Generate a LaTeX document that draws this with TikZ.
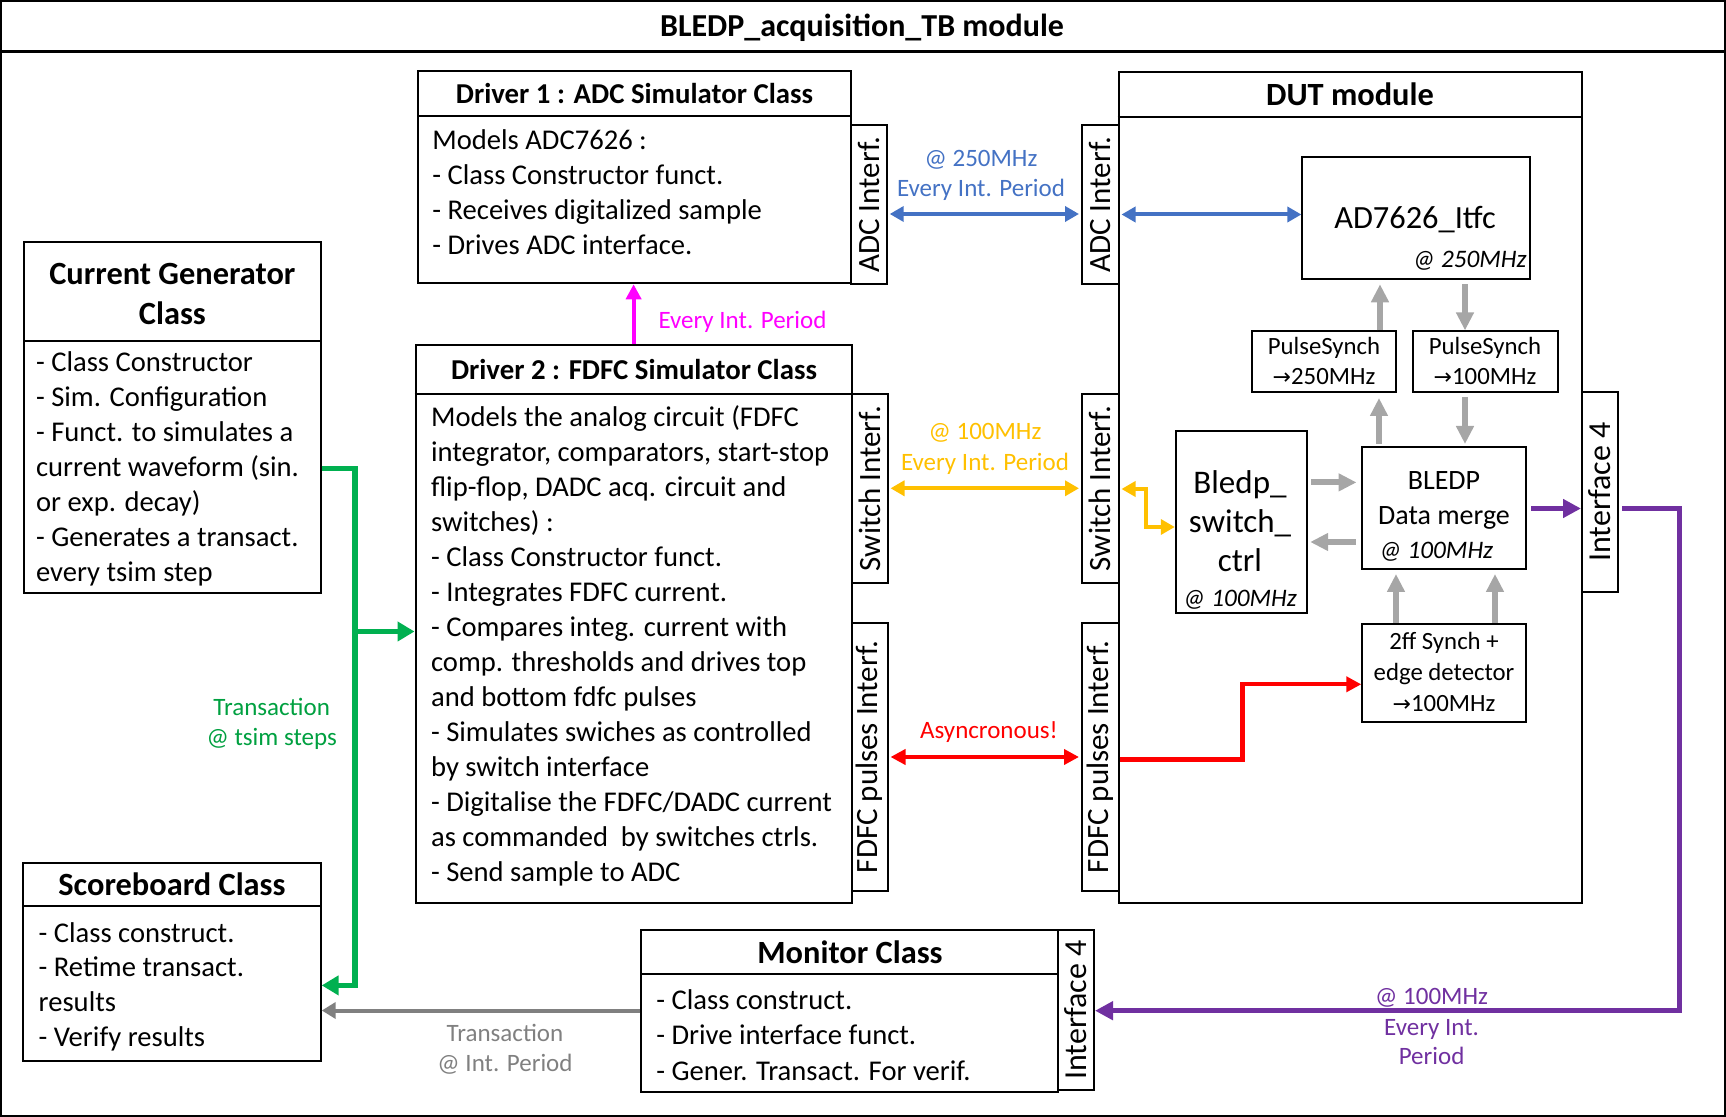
\documentclass[tikz,border=0pt]{standalone}
\usepackage{fontspec}
\setmainfont{Carlito}
\newfontfamily\arrowfont{DejaVu Sans}
\usetikzlibrary{arrows.meta,fit,calc}
\definecolor{cblue}{HTML}{4472C4}
\definecolor{cyel}{HTML}{FFC000}
\definecolor{cred}{HTML}{FF0000}
\definecolor{cmag}{HTML}{FF00FF}
\definecolor{cgreen}{HTML}{00B050}
\definecolor{cgreent}{HTML}{00A040}
\definecolor{cpurp}{HTML}{7030A0}
\definecolor{cgray}{HTML}{A6A6A6}
\definecolor{cgrayd}{HTML}{808080}
\newcommand\bodytext[1]{\parbox[t]{220pt}{\raggedright #1}}
\newcommand\rarr{{\arrowfont\fontsize{11}{13}\selectfont →}}
\tikzset{
  box/.style={draw, line width=1pt, inner sep=0pt},
  bodyt/.style={anchor=base west, inner sep=0pt, font=\fontsize{14.3}{17.5}\selectfont},
  ttl/.style={anchor=base, inner sep=0pt, font=\bfseries\fontsize{14.4}{17}\selectfont},
  bigttl/.style={anchor=base, inner sep=0pt, font=\bfseries\fontsize{16.2}{19.7}\selectfont},
  tabtxt/.style={rotate=90, inner sep=0pt, font=\fontsize{15.5}{18}\selectfont},
  lbl/.style={anchor=base, inner sep=0pt, font=\fontsize{12.5}{15}\selectfont},
  small/.style={anchor=base, inner sep=0pt, font=\fontsize{12.4}{15}\selectfont},
  ital/.style={inner sep=0pt, font=\itshape\fontsize{12.6}{15}\selectfont},
  ablue/.style={draw=cblue, line width=2pt, {Triangle[length=7pt,width=7.5pt]}-{Triangle[length=7pt,width=7.5pt]}},
  ayel/.style={draw=cyel, line width=2pt, {Triangle[length=7pt,width=7.5pt]}-{Triangle[length=7pt,width=7.5pt]}},
  ared2/.style={draw=cred, line width=2.2pt, {Triangle[length=7.5pt,width=7.5pt]}-{Triangle[length=7.5pt,width=7.5pt]}},
  ared/.style={draw=cred, line width=2.2pt, -{Triangle[length=7.5pt,width=7.5pt]}},
  amag/.style={draw=cmag, line width=2pt, -{Triangle[length=7.5pt,width=7.5pt]}},
  agreen/.style={draw=cgreen, line width=2.8pt, -{Triangle[length=8.5pt,width=9.5pt]}},
  apurp/.style={draw=cpurp, line width=2.5pt, -{Triangle[length=9pt,width=9pt]}},
  agray/.style={draw=cgray, line width=3pt, -{Triangle[length=9pt,width=8.5pt]}},
  agrayd/.style={draw=cgrayd, line width=2pt, -{Triangle[length=7pt,width=8pt]}},
}
\begin{document}
\begin{tikzpicture}[x=0.5pt,y=-0.5pt]
\useasboundingbox (0,0) rectangle (1726,1117);
% outer frame
\node[draw, line width=0.75pt, inner sep=0pt, fit={(1,1) (1725,1116)}] (outer) {};
\draw[line width=1.5pt] (outer.west |- 0,52) -- (outer.east |- 0,52);
\node[anchor=base, inner sep=0pt, font=\bfseries\fontsize{16}{19}\selectfont] (title) at (862,37) {BLEDP\_acquisition\_TB module};

% Driver 1
\node[box, fit={(418.4,70.7) (851.3,283.3)}] (d1) {};
\draw[line width=1pt] (d1.west |- 0,116) -- (d1.east |- 0,116);
\node[ttl] (d1t) at (634.5,103.3) {Driver 1 : ADC Simulator Class};
\node[bodyt] (d1b) at (432,150) {\bodytext{Models ADC7626 :\\- Class Constructor funct.\\- Receives digitalized sample\\- Drives ADC interface.}};
\node[box, fit={(851.3,125) (886.7,284.3)}] (adcL) {};
\node[tabtxt] (adcLt) at (adcL.center) {ADC Interf.};

% Driver 2
\node[box, fit={(415.5,345.5) (851.7,902.7)}] (d2) {};
\draw[line width=1pt] (d2.west |- 0,393.8) -- (d2.east |- 0,393.8);
\node[ttl] (d2t) at (634,380) {Driver 2 : FDFC Simulator Class};
\node[bodyt] (d2b) at (430.7,427) {\bodytext{Models the analog circuit (FDFC\\integrator, comparators, start-stop\\flip-flop, DADC acq. circuit and\\switches) :\\- Class Constructor funct.\\- Integrates FDFC current.\\- Compares integ. current with\\comp. thresholds and drives top\\and bottom fdfc pulses\\- Simulates swiches as controlled\\by switch interface\\- Digitalise the FDFC/DADC current\\as commanded\ \ by switches ctrls.\\- Send sample to ADC}};
\node[box, fit={(851.7,393.8) (887.5,583.5)}] (swL) {};
\node[tabtxt] (swLt) at (swL.center) {Switch Interf.};
\node[box, fit={(851.7,622.8) (887.5,890.7)}] (fdL) {};
\node[tabtxt] (fdLt) at (fdL.center) {FDFC pulses Interf.};

% DUT
\node[box, fit={(1118.5,72.5) (1582,902.7)}] (dut) {};
\draw[line width=1pt] (dut.west |- 0,117) -- (dut.east |- 0,117);
\node[bigttl] (dutt) at (1350,105.5) {DUT module};
\node[box, fit={(1082,125) (1118.5,284.3)}] (adcR) {};
\node[tabtxt] (adcRt) at (adcR.center) {ADC Interf.};
\node[box, fit={(1082,393.8) (1118.5,583.5)}] (swR) {};
\node[tabtxt] (swRt) at (swR.center) {Switch Interf.};
\node[box, fit={(1082,622.8) (1118.5,890.7)}] (fdR) {};
\node[tabtxt] (fdRt) at (fdR.center) {FDFC pulses Interf.};
\node[box, fit={(1582,392) (1618.2,592.3)}] (if4) {};
\node[tabtxt, font=\fontsize{16}{19}\selectfont] (if4t) at (if4.center) {Interface 4};

\node[box, fit={(1302.4,156.6) (1530.3,279.3)}] (ad) {};
\node[anchor=base, inner sep=0pt, font=\fontsize{16.2}{19}\selectfont] (adt) at (1415,229) {AD7626\_Itfc};
\node[ital, anchor=base east] (adf) at (1527,268) {@ 250MHz};

\node[box, fit={(1252,331.4) (1395.8,392)}] (psL) {};
\node[small] (psL1) at (1324,354.8) {PulseSynch};
\node[small] (psL2) at (1324,384.8) {\rarr250MHz};
\node[box, fit={(1412.6,331.4) (1557.5,392)}] (psR) {};
\node[small] (psR1) at (1485,354.8) {PulseSynch};
\node[small] (psR2) at (1485,384.8) {\rarr100MHz};

\node[box, fit={(1175.8,431.5) (1307.2,612.7)}] (bl) {};
\node[anchor=base, inner sep=0pt, font=\fontsize{16.5}{19.5}\selectfont] (bl1) at (1240,494) {Bledp\_};
\node[anchor=base, inner sep=0pt, font=\fontsize{16.5}{19.5}\selectfont] (bl2) at (1240,532.7) {switch\_};
\node[anchor=base, inner sep=0pt, font=\fontsize{16.5}{19.5}\selectfont] (bl3) at (1240,571.7) {ctrl};
\node[ital, anchor=base] (bl4) at (1240,607) {@ 100MHz};

\node[box, fit={(1361.5,447) (1526.3,569)}] (dm) {};
\node[anchor=base, inner sep=0pt, font=\fontsize{14}{17}\selectfont] (dm1) at (1444,490) {BLEDP};
\node[anchor=base, inner sep=0pt, font=\fontsize{14}{17}\selectfont] (dm2) at (1444,525) {Data merge};
\node[ital, anchor=base west] (dm3) at (1379,559) {@ 100MHz};

\node[box, fit={(1362.3,624) (1526.3,721.7)}] (ff) {};
\node[small] (ff1) at (1444,650) {2ff Synch +};
\node[small] (ff2) at (1444,680.7) {edge detector};
\node[small] (ff3) at (1444,711.7) {\rarr100MHz};

% Current generator
\node[box, fit={(24,242) (320.7,593.1)}] (cg) {};
\draw[line width=1pt] (cg.west |- 0,340.8) -- (cg.east |- 0,340.8);
\node[bigttl] (cgt1) at (172.4,285) {Current Generator};
\node[bigttl] (cgt2) at (172.4,324.3) {Class};
\node[bodyt] (cgb) at (35.7,372) {\bodytext{- Class Constructor\\- Sim. Configuration\\- Funct. to simulates a\\current waveform (sin.\\or exp. decay)\\- Generates a transact.\\every tsim step}};

% Scoreboard
\node[box, fit={(23.3,862.5) (320.7,1061)}] (sb) {};
\draw[line width=1pt] (sb.west |- 0,906.4) -- (sb.east |- 0,906.4);
\node[bigttl] (sbt) at (172,895) {Scoreboard Class};
\node[bodyt, font=\fontsize{14.3}{17.4}\selectfont] (sbb) at (38.3,942) {\bodytext{- Class construct.\\- Retime transact.\\results\\- Verify results}};

% Monitor
\node[box, fit={(641,930) (1058.2,1091.7)}] (mon) {};
\draw[line width=1pt] (mon.west |- 0,974) -- (mon.east |- 0,974);
\node[bigttl] (mont) at (850,963) {Monitor Class};
\node[bodyt, font=\fontsize{14.3}{17.9}\selectfont] (monb) at (656,1009) {\bodytext{- Class construct.\\- Drive interface funct.\\- Gener. Transact. For verif.}};
\node[box, fit={(1058.2,930) (1094,1090)}] (monif) {};
\node[tabtxt, font=\fontsize{16}{19}\selectfont] (monift) at (monif.center) {Interface 4};

% connectors between drivers and DUT
\draw[ablue, shorten <=1pt, shorten >=1pt] (adcL.east |- 0,214) -- (adcR.west |- 0,214);
\node[lbl, text=cblue] (lb1) at (981,166.7) {@ 250MHz};
\node[lbl, text=cblue] (lb2) at (981,196.7) {Every Int. Period};
\draw[ayel, shorten <=1pt, shorten >=1pt] (swL.east |- 0,488.3) -- (swR.west |- 0,488.3);
\node[lbl, text=cyel] (ly1) at (985,440) {@ 100MHz};
\node[lbl, text=cyel] (ly2) at (985,470.9) {Every Int. Period};
\draw[ared2, shorten <=1pt, shorten >=1pt] (fdL.east |- 0,757) -- (fdR.west |- 0,757);
\node[lbl, text=cred] (lr1) at (989,738.8) {Asyncronous!};
\draw[amag] (d2.north) -- (d2.north |- d1.south);
\node[lbl, text=cmag] (lm1) at (742.5,328.3) {Every Int. Period};

% inside DUT
\draw[ablue, shorten <=1pt] (adcR.east |- 0,214.5) -- (ad.west |- 0,214.5);
\draw[ayel, shorten <=1pt, line join=miter] (swR.east |- 0,489) -- (1146,489) -- (1146,527) -- (bl.west |- 0,527);
\draw[ared, line join=miter] (fdR.east |- 0,759.3) -- (1242.5,759.3) -- (1242.5,684.3) -- (ff.west |- 0,684.3);
\draw[agray, shorten >=2pt] (psL.north -| 1380,0) -- (ad.south -| 1380,0);
\draw[agray, shorten <=2pt] (ad.south -| 1465,0) -- (psR.north -| 1465,0);
\draw[agray, shorten <=1pt, shorten >=2.5pt] (dm.north -| 1379,0) -- (psL.south -| 1379,0);
\draw[agray, shorten <=2pt, shorten >=1pt] (psR.south -| 1465,0) -- (dm.north -| 1465,0);
\draw[agray, shorten <=1.5pt, shorten >=2pt] (bl.east |- 0,482.4) -- (dm.west |- 0,482.4);
\draw[agray, shorten <=2.5pt, shorten >=1pt] (dm.west |- 0,542) -- (bl.east |- 0,542);
\draw[agray, shorten >=2pt] (ff.north -| 1396,0) -- (dm.south -| 1396,0);
\draw[agray, shorten >=2pt] (ff.north -| 1495,0) -- (dm.south -| 1495,0);

% purple
\draw[apurp, shorten <=2pt] (dm.east |- 0,508.5) -- (if4.west |- 0,508.5);
\coordinate (pc1) at (1679,508.5);
\coordinate (pc2) at (1679,1010.7);
\draw[apurp, shorten <=1.5pt, line join=miter] (if4.east |- pc1) -- (pc1) -- (pc2) -- (monif.east |- pc2);
\node[lbl, text=cpurp] (lp1) at (1431.6,1004) {@ 100MHz};
\node[lbl, text=cpurp] (lp2) at (1431.6,1035) {Every Int.};
\node[lbl, text=cpurp] (lp3) at (1431.6,1064.3) {Period};

% green
\coordinate (g1) at (355,468.6);
\coordinate (g2) at (355,985.4);
\coordinate (gb) at (355,631.5);
\draw[agreen, line join=miter] (cg.east |- g1) -- (g1) -- (g2) -- (sb.east |- g2);
\draw[agreen] (gb) -- (d2.west |- gb);
\node[lbl, text=cgreent] (lg1) at (271.7,715.5) {Transaction};
\node[lbl, text=cgreent] (lg2) at (271.7,745.6) {@ tsim steps};

% gray monitor -> scoreboard
\draw[agrayd] (mon.west |- 0,1010.5) -- (sb.east |- 0,1010.5);
\node[lbl, text=cgrayd] (lgr1) at (505,1041) {Transaction};
\node[lbl, text=cgrayd] (lgr2) at (505,1071.7) {@ Int. Period};
\end{tikzpicture}
\end{document}
